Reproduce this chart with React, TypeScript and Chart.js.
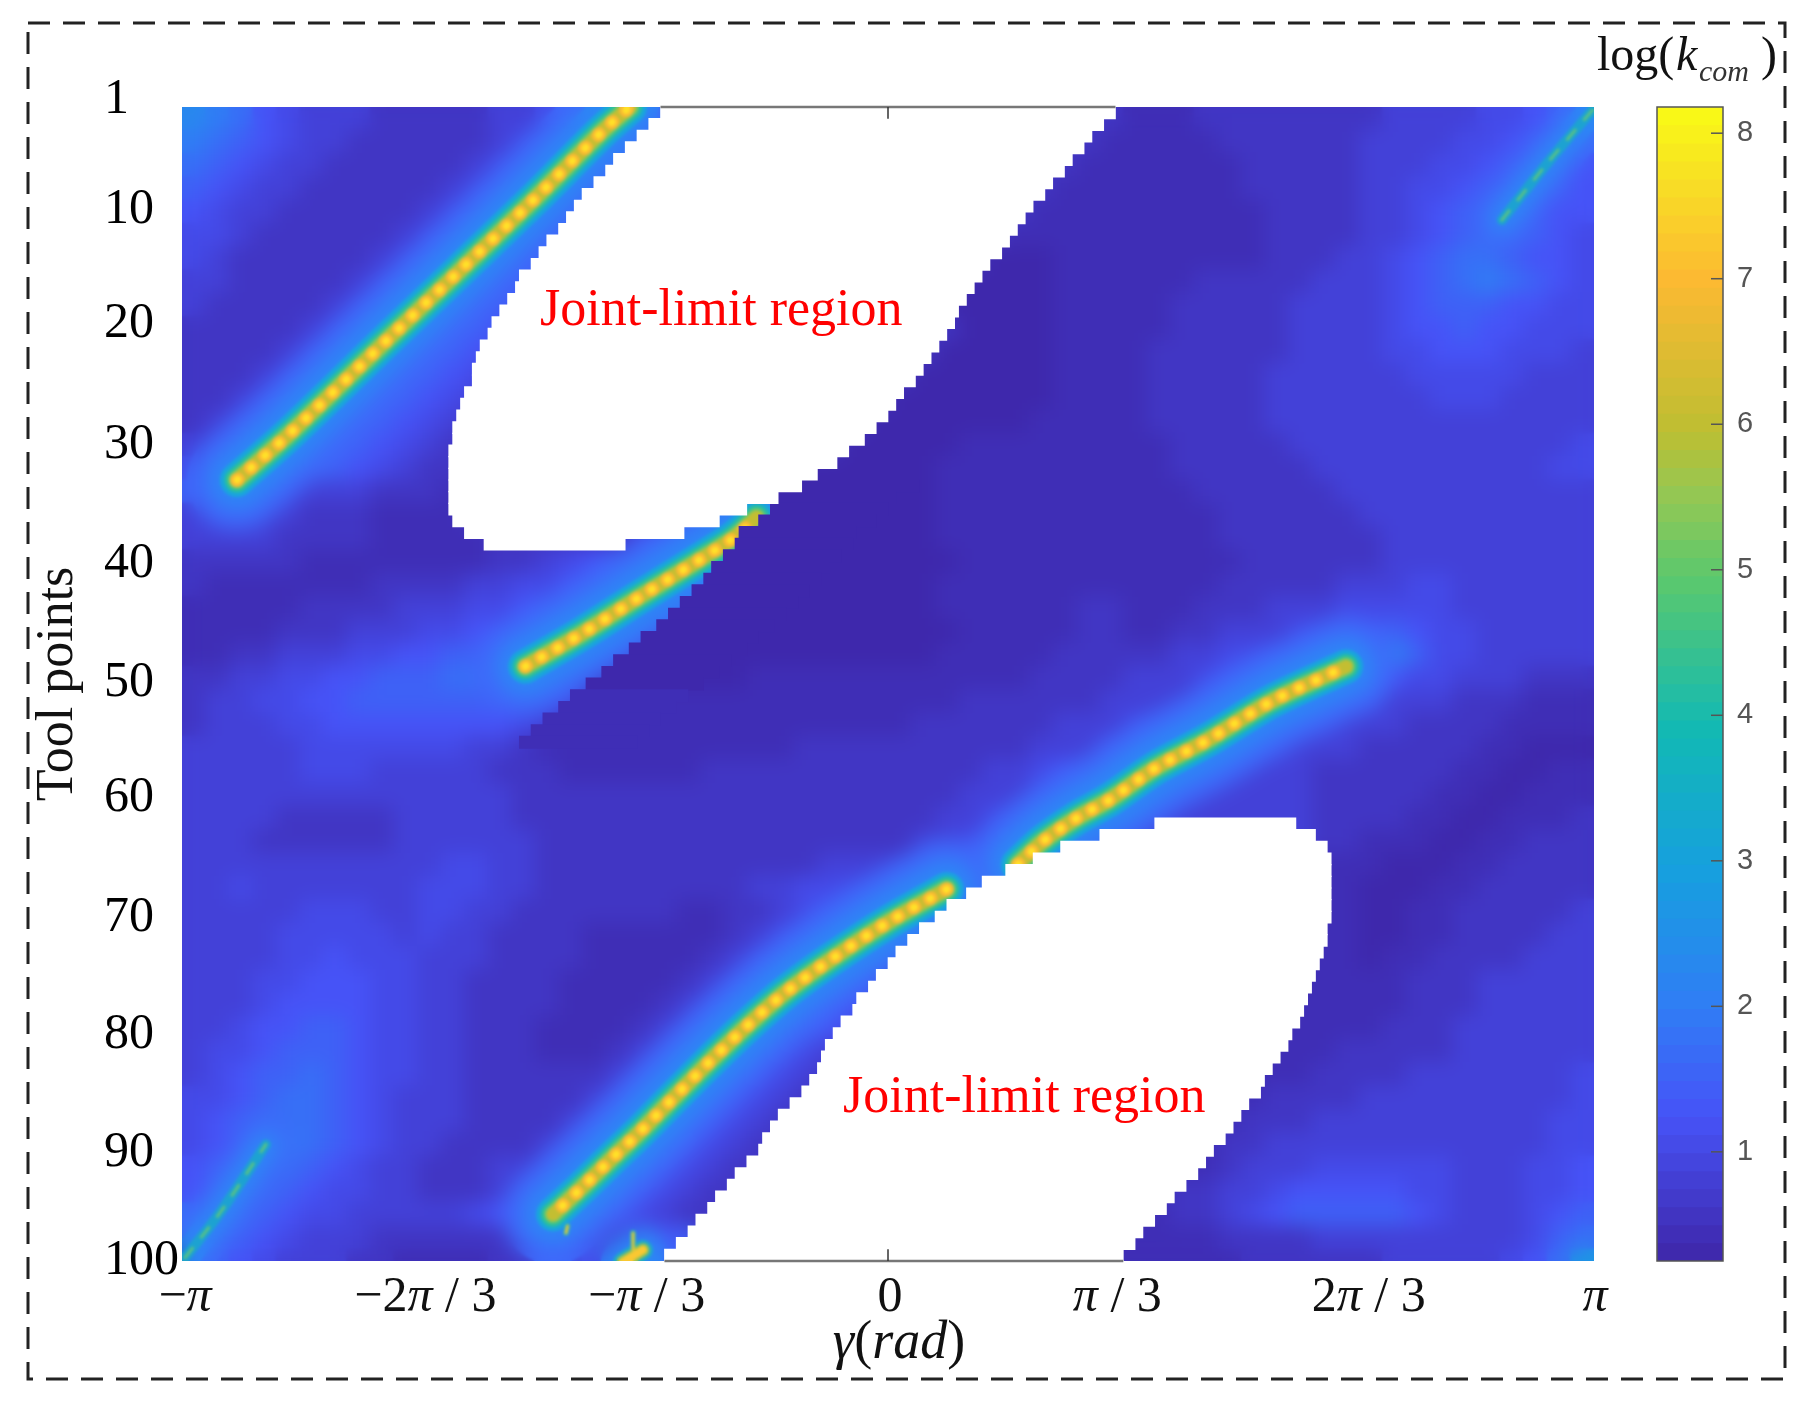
import React, { useEffect, useRef } from 'react';
import { Chart, registerables } from 'chart.js';

Chart.register(...registerables);

const SERIF = '"Liberation Serif"';

// log(k_com) levels, one row every 2 tool points, one column every 6 degrees
const cellLevels = [0.30, 0.42, 0.60, 0.85, 1.05, 1.25, 1.5, 1.75, 2.0, 2.3, 2.7];
const cellRows = [
    '9875433322 2223345789 2222222222 2222222222 1112222222 2333344568',
    '8765433222 2223457887 2222222222 2222222221 1111222222 3333445687',
    '7654332222 2234578876 2222222222 2222222211 1111122222 3334456775',
    '6543322222 2345788765 2222222222 2222222111 1111122222 3344567765',
    '5433222222 3457887654 2222222222 2222221111 1111112222 3345677655',
    '4432222223 4578876543 2222222222 2222211111 1111112222 3345677654',
    '4322222234 5788765433 2222222222 2222000111 1111112223 3456776554',
    '3322222345 7887654322 2222222222 2220000111 1112222233 3456787654',
    '3222223457 8876552222 2222222222 2200000111 1122222333 3456665544',
    '2222234578 8765222222 2222222222 2220000111 1122222333 3455655444',
    '2222345788 7654222222 2222222222 2200000111 1222222333 3445554443',
    '2223457887 6542222222 2222222222 2000000111 1222223333 3344444333',
    '2234578876 5432222222 2222222222 0000000111 1222223333 3334443333',
    '2345788765 4322222222 2222222220 0000001111 1222223333 3333333333',
    '3457887654 3222222222 2222222200 0001111111 1122222333 3333333334',
    '4578876543 2222222222 2222220000 0011111111 1122222233 3333333344',
    '6765433322 2122222222 2222200000 0011111111 1112222223 3333333333',
    '3443322211 1122222222 2227800000 0011111111 1111222222 3333333333',
    '3333222211 1112222224 5780000000 0011111111 1111222222 2333333333',
    '2222211111 1112234567 8800000000 0001111111 1111122222 2333333333',
    '2111111122 2233445678 8000000000 0011111111 1111222223 3344333333',
    '1111122223 3344567880 0000000000 0011111122 1112223334 4444333333',
    '1111222333 4455678861 0000000000 0001111122 1122333445 5654433333',
    '1122333445 5667887510 0000000000 0011111222 2233445567 8964433333',
    '2233445566 6778765110 0000111111 1111112222 3334567876 6544333222',
    '2334455666 6666554211 1111111111 1112222223 3334468865 4333222111',
    '2333445555 5555431111 1111111111 1222222333 4467886543 3322221111',
    '3333344444 4433211111 1111112222 2222223335 6788654333 2222211000',
    '3333344433 3332221111 1122222222 2222334567 8865333322 2222110011',
    '3333333333 3333222222 2222222222 2223334568 7643333322 2221100111',
    '3333222223 3333222222 2222222222 2233468876 4333333322 2211001112',
    '3332222223 3333322222 2222222222 2334568766 3333333322 1110011222',
    '3333333333 3443322222 2222222333 3445667611 1111111111 1000112222',
    '3343333333 4443322222 2222334445 6788611111 1111111111 0001122222',
    '3333344433 4433222222 2112234567 8861111111 1111111111 0011222223',
    '3333444443 4332222111 1112345788 8711111111 1111111111 0011222233',
    '3333445444 3332222111 1123457887 5111111111 1111111111 0112222333',
    '3334455544 3322221111 1234578875 1111111111 1111111111 1122233333',
    '3334555544 3322221111 2345788754 1111111111 1111111111 1122233333',
    '3345566544 3322211112 3457887543 1111111111 1111111111 1222333333',
    '3445666544 3322211123 4688754322 1111111111 1111111112 2222333333',
    '3456676544 3322222234 6887543221 1111111111 1111111122 2233333334',
    '4456776543 3322222346 8875432211 1111111111 1111112222 3333333334',
    '4567776543 3322223468 8754322111 1111111111 1111122233 3333333344',
    '4567876543 3222234688 7543221111 1111111111 1111223333 3333333344',
    '5678765433 2223346887 5432211111 1111111111 1111233344 4444333445',
    '5787654433 2223468875 4322111111 1111111111 1122334555 5544333445',
    '7986544333 3345688754 3221111111 1111111111 1122345666 6654333456',
    '8865433322 2222233334 5611111111 1111111111 1111222233 3333333467',
    '9654333221 1112233446 7511111111 1111111111 1111122222 233333457a'
];

// joint-limit regions, gamma in degrees per tool point
const upperFirstRow = 1;
const upperLeft = [-58, -61, -64, -67, -70, -72, -75, -78, -80, -82, -84, -87, -89, -91, -94, -95, -97, -99, -101, -102, -104, -105, -106, -106, -108, -109, -110, -111, -111, -112, -112, -112, -112, -112, -112, -111, -108, -103];
const upperRight = [58, 55, 52, 50, 47, 45, 42, 40, 37, 35, 33, 31, 29, 26, 24, 22, 20, 18, 17, 15, 13, 11, 9, 7, 4, 2, 0, -3, -6, -10, -13, -18, -22, -28, -36, -43, -52, -67];
const lowerFirstRow = 62;
const lowerLeft = [68, 54, 44, 37, 30, 24, 20, 15, 12, 8, 5, 2, 0, -3, -5, -8, -9, -12, -14, -16, -17, -18, -20, -22, -25, -28, -30, -32, -33, -36, -39, -41, -44, -46, -49, -51, -54, -57, -57];
const lowerRight = [104, 109, 112, 113, 113, 113, 113, 113, 113, 112, 112, 111, 110, 109, 108, 107, 106, 105, 103, 102, 100, 98, 96, 95, 92, 90, 88, 86, 83, 81, 79, 76, 73, 71, 68, 65, 63, 60, 60];

// sharp edge under the second ridge
const cutFirstRow = 33;
const cutLeft = [-22, -28, -30, -33, -38, -39, -42, -45, -47, -50, -53, -56, -59, -63, -66, -70, -73, -77, -81, -84, -88, -91, -94];
const cutDarkRows = 18;

// ridges, [gamma in degrees, tool point]
const ridgeA = [[-166, 33], [-152.5, 29], [-127.8, 21], [-109.1, 15], [-90.8, 9.1], [-72.6, 3], [-65.8, 1]];
const ridgeB = [[-92.5, 49], [-77.7, 46.1], [-63.2, 43], [-48.8, 40], [-39.5, 38], [-33.5, 36.2]];
const ridgeC = [[33.1, 66], [39.5, 64], [48.1, 62], [56.6, 60.4], [68.2, 57.7], [81.5, 55.3], [97.7, 52], [116.8, 49]];
const ridgeD = [[15, 68.1], [-0.3, 71], [-14.4, 74.1], [-26.3, 77], [-36.5, 80], [-45.8, 83], [-54.7, 86], [-63.2, 88.9], [-70.1, 91.1], [-79, 94], [-85.4, 96]];
const ridgeE = [[-62.5, 99.05], [-67.6, 100.1]];
const ridgeF = [[-81.7, 97], [-82.1, 97.6]];
const ridgeG = [[-65, 97.6], [-65, 99]];
const faintA = [[179.5, 1.3], [168.4, 5.7], [156.5, 10.7]];
const faintB = [[-179.2, 99.7], [-170.4, 95.9], [-158.6, 90]];

// soft passes over what has been drawn so far, strongest first
const softPasses = [
    { beforeOrder: 26, blur: 10 },
    { beforeOrder: 3, blur: 1.6 }
];
const strongLayers = [
    { width: 100, color: 'rgb(62,105,250)', order: 29 },
    { width: 58, color: 'rgb(44,135,245)', order: 28 },
    { width: 34, color: 'rgb(25,165,220)', order: 25 },
    { width: 25, color: 'rgb(40,190,160)', order: 24 },
    { width: 18, color: 'rgb(115,200,100)', order: 23 },
    { width: 13, color: 'rgb(195,190,50)', order: 22 },
    { width: 14, color: 'rgb(250,185,50)', dash: [1, 17.5], order: 21 },
    { width: 7, color: 'rgb(255,225,40)', dash: [1, 17.5], order: 20 }
];
const blobLayers = [
    { width: 44, color: 'rgb(44,135,245)', order: 28 },
    { width: 20, color: 'rgb(30,170,200)', order: 19 },
    { width: 13, color: 'rgb(150,195,80)', order: 18 },
    { width: 8, color: 'rgb(250,200,50)', order: 17 }
];
const sliverLayers = [
    { width: 6, color: 'rgb(30,170,200)', order: 19 },
    { width: 3, color: 'rgb(230,200,50)', order: 17 }
];
const faintLayers = [
    { width: 54, color: 'rgb(62,105,250)', order: 29 },
    { width: 28, color: 'rgb(44,135,245)', order: 28 },
    { width: 10, color: 'rgba(25,170,200,0.8)', order: 16 },
    { width: 3, color: 'rgb(90,195,130)', dash: [12, 14], order: 15 }
];

const yTickSpots = [0.4, 9.8, 19.6, 30, 40.2, 50.4, 60.3, 70.6, 80.6, 90.7, 100];
const xTickValues = [-180, -120, -60, 0, 60, 120, 180];
const xTickShift = [3, 8, -6, 2, -6, 10, 1];
const xTickRuns = [
    [['−', false], ['π', true]],
    [['−2', false], ['π', true], [' / 3', false]],
    [['−', false], ['π', true], [' / 3', false]],
    [['0', false]],
    [['π', true], [' / 3', false]],
    [['2', false], ['π', true], [' / 3', false]],
    [['π', true]]
];

const barTicks = [1, 2, 3, 4, 5, 6, 7, 8];
const barMin = 0.25;
const barMax = 8.18;
const barSteps = 64;

const colorStops = [
    [0, 62, 38, 168], [0.125, 70, 83, 247], [0.22, 48, 125, 245], [0.34, 22, 160, 222],
    [0.46, 18, 185, 180], [0.59, 90, 200, 110], [0.66, 145, 200, 85], [0.72, 190, 190, 50],
    [0.85, 252, 185, 50], [0.93, 248, 220, 38], [1, 249, 251, 21]
];

function colorOf(value: number) {
    const f = Math.min(1, Math.max(0, (value - barMin) / (barMax - barMin)));
    let i = 0;
    while (i < colorStops.length - 2 && colorStops[i + 1][0] < f) i++;
    const a = colorStops[i];
    const b = colorStops[i + 1];
    const t = (f - a[0]) / (b[0] - a[0]);
    const mix = (k: number) => Math.round(a[k] + (b[k] - a[k]) * t);
    return `rgb(${mix(1)},${mix(2)},${mix(3)})`;
}

function drawRuns(ctx, runs, x, y, size, color = '#111') {
    const fontOf = (italic) => `${italic ? 'italic ' : ''}${size}px ${SERIF}`;
    let width = 0;
    runs.forEach(([text, italic]) => {
        ctx.font = fontOf(italic);
        width += ctx.measureText(text).width;
    });
    let cx = x - width / 2;
    ctx.fillStyle = color;
    ctx.textAlign = 'left';
    ctx.textBaseline = 'alphabetic';
    runs.forEach(([text, italic]) => {
        ctx.font = fontOf(italic);
        ctx.fillText(text, cx, y);
        cx += ctx.measureText(text).width;
    });
}

// the reference field is a smooth surface, so the cells and ridge glow get softened between the draw layers
let passIndex = 0;
const softField = {
    id: 'softField',
    beforeDatasetsDraw() {
        passIndex = 0;
    },
    beforeDatasetDraw(chart, args) {
        const pass = softPasses[passIndex];
        if (!pass || chart.data.datasets[args.index].order > pass.beforeOrder) return;
        passIndex++;
        const { ctx, chartArea } = chart;
        ctx.save();
        ctx.beginPath();
        ctx.rect(chartArea.left, chartArea.top, chartArea.right - chartArea.left, chartArea.bottom - chartArea.top);
        ctx.clip();
        ctx.filter = `blur(${pass.blur}px)`;
        ctx.drawImage(ctx.canvas, 0, 0);
        ctx.restore();
    }
};

// text the axes cannot set themselves, and the dashed frame
const annotations = {
    id: 'annotations',
    afterDraw(chart) {
        const { ctx, scales } = chart;
        ctx.save();
        xTickValues.forEach((value, i) => {
            drawRuns(ctx, xTickRuns[i], scales.x.getPixelForValue(value) + xTickShift[i], 1311, 50);
        });
        drawRuns(ctx, [['γ', true], ['(', false], ['rad', true], [')', false]], 899, 1358, 54);

        ctx.save();
        ctx.translate(72, 684);
        ctx.rotate(-Math.PI / 2);
        drawRuns(ctx, [['Tool points', false]], 0, 0, 52);
        ctx.restore();

        ctx.fillStyle = '#111';
        ctx.textAlign = 'left';
        ctx.font = `48px ${SERIF}`;
        ctx.fillText('log(', 1597, 70);
        ctx.font = `italic 48px ${SERIF}`;
        ctx.fillText('k', 1676, 70);
        ctx.font = `italic 30px ${SERIF}`;
        ctx.fillStyle = '#333';
        ctx.fillText('com', 1699, 81);
        ctx.fillStyle = '#111';
        ctx.font = `48px ${SERIF}`;
        ctx.fillText(')', 1761, 70);

        ctx.fillStyle = '#ff0000';
        ctx.font = `52px ${SERIF}`;
        ctx.fillText('Joint-limit region', 540, 325);
        ctx.fillText('Joint-limit region', 843, 1112);

        ctx.strokeStyle = '#222';
        ctx.lineWidth = 3;
        ctx.setLineDash([22, 13]);
        ctx.strokeRect(28, 23, 1757, 1356);
        ctx.restore();
    }
};

const barOutline = {
    id: 'barOutline',
    afterDraw(chart) {
        const { ctx, chartArea, scales } = chart;
        ctx.save();
        ctx.strokeStyle = '#555';
        ctx.lineWidth = 1.5;
        barTicks.forEach((value) => {
            const y = scales.y.getPixelForValue(value);
            ctx.beginPath();
            ctx.moveTo(chartArea.right - 12, y);
            ctx.lineTo(chartArea.right, y);
            ctx.stroke();
        });
        ctx.strokeRect(chartArea.left, chartArea.top, chartArea.right - chartArea.left, chartArea.bottom - chartArea.top);
        ctx.restore();
    }
};

function ridgeDatasets(points, layers) {
    return layers.map((layer) => ({
        type: 'line',
        data: points.map(([x, y]) => ({ x, y })),
        borderColor: layer.color,
        borderWidth: layer.width,
        borderDash: layer.dash || [],
        borderCapStyle: 'round',
        tension: 0.3,
        pointRadius: 0,
        clip: 0,
        order: layer.order
    }));
}

function regionData(firstRow, left, right) {
    return left.map((a, i) => ({ x: [a, right[i]], y: firstRow + i + 0.5 }));
}

function buildDatasets() {
    const cells = [];
    const colors = [];
    cellRows.forEach((row, r) => {
        row.replace(/ /g, '').split('').forEach((ch, c) => {
            cells.push({ x: [-180 + 6 * c, -180 + 6 * c + 6.3], y: 2 * (r + 1) });
            colors.push(colorOf(cellLevels[parseInt(ch, 16)]));
        });
    });
    const floating = { type: 'bar', grouped: false, borderWidth: 0, clip: 0 };
    return [
        { ...floating, data: cells, backgroundColor: colors, barThickness: 24, order: 30 },
        ...ridgeDatasets(faintA, faintLayers),
        ...ridgeDatasets(faintB, faintLayers),
        ...ridgeDatasets(ridgeA, strongLayers),
        ...ridgeDatasets(ridgeB, strongLayers),
        ...ridgeDatasets(ridgeC, strongLayers),
        ...ridgeDatasets(ridgeD, strongLayers),
        ...ridgeDatasets(ridgeE, blobLayers),
        ...ridgeDatasets(ridgeF, sliverLayers),
        ...ridgeDatasets(ridgeG, sliverLayers),
        {
            ...floating,
            data: cutLeft.map((a, i) => ({ x: [a, a + 30], y: cutFirstRow + i + 0.5 })),
            backgroundColor: cutLeft.map((a, i) => colorOf(cellLevels[i < cutDarkRows ? 0 : 1])),
            barThickness: 12.2,
            order: 3
        },
        {
            ...floating,
            data: [...regionData(upperFirstRow, upperLeft, upperRight), ...regionData(lowerFirstRow, lowerLeft, lowerRight)],
            backgroundColor: '#ffffff',
            barThickness: 12.2,
            order: 2
        },
        ...[
            [[upperLeft[0], 1], [upperRight[0], 1]],
            [[lowerLeft[38], 100], [lowerRight[38], 100]]
        ].map((points) => ({
            type: 'line',
            data: points.map(([x, y]) => ({ x, y })),
            borderColor: '#777',
            borderWidth: 2.5,
            pointRadius: 0,
            clip: false,
            order: 1
        })),
        ...[
            [[0, 1], [0, 2]],
            [[0, 100], [0, 99]]
        ].map((points) => ({
            type: 'line',
            data: points.map(([x, y]) => ({ x, y })),
            borderColor: '#333',
            borderWidth: 1.5,
            pointRadius: 0,
            clip: false,
            order: 0
        }))
    ];
}

export default function App() {
    const mainCanvas = useRef<HTMLCanvasElement>(null);
    const barCanvas = useRef<HTMLCanvasElement>(null);

    useEffect(() => {
        const main = new Chart(mainCanvas.current, {
            type: 'bar',
            data: { datasets: buildDatasets() as any },
            options: {
                indexAxis: 'y',
                responsive: false,
                animation: false,
                events: [],
                layout: { autoPadding: false, padding: { left: 104, top: 107, right: 218, bottom: 143 } },
                plugins: { legend: { display: false }, tooltip: { enabled: false } },
                scales: {
                    x: { type: 'linear', min: -180, max: 180, display: false },
                    y: {
                        type: 'linear',
                        min: 1,
                        max: 100,
                        offset: false,
                        reverse: true,
                        afterBuildTicks: (axis) => {
                            axis.ticks = yTickSpots.map((value) => ({ value }));
                        },
                        afterFit: (axis) => {
                            axis.width = 78;
                            axis.paddingTop = 0;
                            axis.paddingBottom = 0;
                        },
                        grid: { display: false, drawTicks: false },
                        border: { display: false },
                        ticks: {
                            autoSkip: false,
                            crossAlign: 'far',
                            color: '#000',
                            font: { family: SERIF, size: 50 },
                            callback: (value) => (value < 1 ? '1' : String(Math.round(value / 10) * 10))
                        }
                    }
                }
            },
            plugins: [softField, annotations]
        });

        const step = (barMax - barMin) / barSteps;
        const bands = [];
        const bandColors = [];
        for (let i = 0; i < barSteps; i++) {
            bands.push({ x: 0.5, y: [barMin + i * step, barMin + (i + 1) * step + 0.01] });
            bandColors.push(colorOf(barMin + (i + 0.5) * step));
        }
        const bar = new Chart(barCanvas.current, {
            type: 'bar',
            data: {
                datasets: [{ data: bands, backgroundColor: bandColors, barThickness: 66, grouped: false, borderWidth: 0 }] as any
            },
            options: {
                responsive: false,
                animation: false,
                events: [],
                layout: { autoPadding: false, padding: { left: 17, top: 107, right: 0, bottom: 143 } },
                plugins: { legend: { display: false }, tooltip: { enabled: false } },
                scales: {
                    x: { type: 'linear', min: 0, max: 1, offset: false, display: false },
                    y: {
                        type: 'linear',
                        position: 'right',
                        min: barMin,
                        max: barMax,
                        afterBuildTicks: (axis) => {
                            axis.ticks = barTicks.map((value) => ({ value }));
                        },
                        afterFit: (axis) => {
                            axis.width = 89;
                            axis.paddingTop = 0;
                            axis.paddingBottom = 0;
                        },
                        grid: { display: false, drawTicks: false },
                        border: { display: false },
                        ticks: {
                            padding: 14,
                            color: '#555',
                            font: { family: '"Liberation Sans"', size: 29 }
                        }
                    }
                }
            },
            plugins: [barOutline]
        });

        return () => {
            main.destroy();
            bar.destroy();
        };
    }, []);

    return (
        <div style={{ position: 'absolute', left: 0, top: 0, width: 1812, height: 1404, overflow: 'hidden', background: '#fff' }}>
            <canvas ref={mainCanvas} width={1812} height={1404} style={{ position: 'absolute', left: 0, top: 0 }}></canvas>
            <canvas ref={barCanvas} width={172} height={1404} style={{ position: 'absolute', left: 1640, top: 0 }}></canvas>
        </div>
    );
}
